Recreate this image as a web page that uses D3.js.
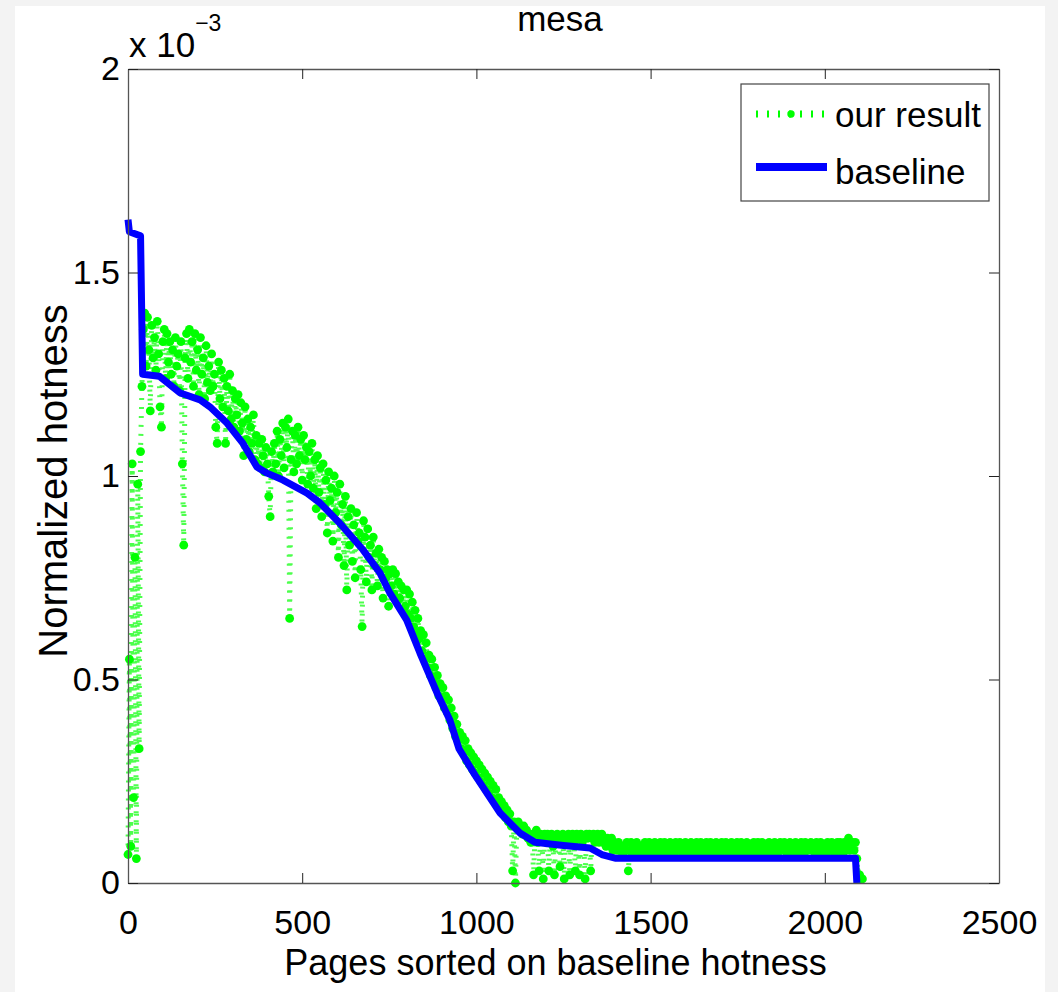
<!DOCTYPE html>
<html>
<head>
<meta charset="utf-8">
<script src="https://cdn.jsdelivr.net/npm/d3@7"></script>
<style>
    html, body { margin: 0; padding: 0; background: #f3f3f3; }
    svg { display: block; }
    text { font-family: "Liberation Sans", Arial, Helvetica, sans-serif; fill: #000; }
</style>
</head>
<body>
<div id="chart"></div>
<script>
    // values are in units of 1e-3 (the axis carries the "x 10^-3" factor)

    // axis ticks
    const X_TICKS = [0, 500, 1000, 1500, 2000, 2500];
    const Y_TICKS = [0, 0.5, 1, 1.5, 2];
    const Y_TICK_LABELS = ['0', '0.5', '1', '1.5', '2'];

    // baseline: pages sorted on baseline hotness
    const BASE_PAGES = [0, 4, 36, 42, 90, 150, 207, 235, 284, 330, 370, 399, 445, 514, 551,
        608, 675, 723, 752, 800, 838, 887, 924, 950, 996, 1068, 1125, 1168, 1250, 1326,
        1360, 1398, 1700, 2088, 2092];
    const BASE_VALUES = [1.63, 1.60, 1.59, 1.25, 1.245, 1.204, 1.187, 1.17, 1.13, 1.08, 1.022,
        1.007, 0.99, 0.958, 0.934, 0.884, 0.818, 0.762, 0.712, 0.646, 0.565, 0.467, 0.40,
        0.33, 0.265, 0.172, 0.123, 0.10, 0.092, 0.086, 0.07, 0.061, 0.061, 0.061, 0];

    // our result: sampled every OUR_STEP pages, starting at page 0
    const OUR_STEP = 4;
    const OUR_VALUES = [
        /* 0    */ 0.07, 0.55, 0.09, 1.03, 0.21, 0.80, 0.06, 0.98, 0.33, 1.06,
        /* 40   */ 1.22, 1.36, 1.40, 1.27, 1.39, 1.31, 1.16, 1.37, 1.29, 1.34,
        /* 80   */ 1.26, 1.38, 1.30, 1.17, 1.12, 1.33, 1.36, 1.24, 1.35, 1.28,
        /* 120  */ 1.33, 1.25, 1.31, 1.22, 1.34, 1.27, 1.30, 1.21, 1.33, 1.03,
        /* 160  */ 0.83, 1.29, 1.35, 1.24, 1.36, 1.28, 1.33, 1.22, 1.35, 1.26,
        /* 200  */ 1.31, 1.20, 1.34, 1.25, 1.29, 1.19, 1.32, 1.23, 1.27, 1.21,
        /* 240  */ 1.30, 1.22, 1.25, 1.12, 1.08, 1.28, 1.19, 1.26, 1.17, 1.24,
        /* 280  */ 1.08, 1.22, 1.16, 1.25, 1.14, 1.21, 1.12, 1.19, 1.15, 1.20,
        /* 320  */ 1.11, 1.18, 1.13, 1.05, 1.17, 1.09, 1.14, 1.06, 1.12, 1.08,
        /* 360  */ 1.15, 1.04, 1.10, 1.03, 1.08, 1.02, 1.09, 1.05, 1.01, 1.07,
        /* 400  */ 1.03, 0.95, 0.90, 1.06, 1.01, 1.08, 1.03, 1.11, 1.00, 1.09,
        /* 440  */ 1.05, 1.13, 1.02, 1.12, 1.07, 1.14, 0.65, 1.04, 1.11, 1.01,
        /* 480  */ 1.10, 1.03, 1.12, 1.05, 1.09, 0.99, 1.10, 1.04, 1.07, 0.98,
        /* 520  */ 1.06, 1.00, 1.08, 0.97, 1.04, 0.92, 1.05, 0.96, 1.02, 0.90,
        /* 560  */ 1.03, 0.93, 0.99, 0.86, 1.01, 0.94, 0.97, 0.84, 1.00, 0.91,
        /* 600  */ 0.96, 0.80, 0.98, 0.88, 0.93, 0.78, 0.95, 0.72, 0.90, 0.83,
        /* 640  */ 0.92, 0.79, 0.88, 0.75, 0.91, 0.84, 0.86, 0.77, 0.63, 0.89,
        /* 680  */ 0.85, 0.74, 0.87, 0.80, 0.83, 0.72, 0.85, 0.78, 0.81, 0.73,
        /* 720  */ 0.82, 0.77, 0.80, 0.70, 0.79, 0.75, 0.77, 0.68, 0.76, 0.73,
        /* 760  */ 0.77, 0.71, 0.76, 0.69, 0.74, 0.70, 0.73, 0.67, 0.72, 0.68,
        /* 800  */ 0.72, 0.66, 0.71, 0.65, 0.69, 0.63, 0.67, 0.61, 0.65, 0.60,
        /* 840  */ 0.62, 0.57, 0.61, 0.55, 0.59, 0.53, 0.56, 0.51, 0.55, 0.50,
        /* 880  */ 0.53, 0.48, 0.51, 0.46, 0.49, 0.45, 0.48, 0.43, 0.46, 0.42,
        /* 920  */ 0.45, 0.40, 0.43, 0.38, 0.41, 0.36, 0.39, 0.35, 0.37, 0.33,
        /* 960  */ 0.36, 0.32, 0.35, 0.30, 0.33, 0.29, 0.32, 0.28, 0.31, 0.27,
        /* 1000 */ 0.30, 0.26, 0.29, 0.25, 0.28, 0.24, 0.27, 0.23, 0.26, 0.22,
        /* 1040 */ 0.25, 0.21, 0.24, 0.20, 0.23, 0.19, 0.21, 0.18, 0.20, 0.17,
        /* 1080 */ 0.19, 0.16, 0.18, 0.15, 0.17, 0.14, 0.03, 0.15, 0.00, 0.14,
        /* 1120 */ 0.15, 0.13, 0.14, 0.12, 0.14, 0.12, 0.13, 0.11, 0.12, 0.10,
        /* 1160 */ 0.12, 0.02, 0.11, 0.13, 0.10, 0.03, 0.12, 0.11, 0.01, 0.12,
        /* 1200 */ 0.10, 0.12, 0.03, 0.11, 0.12, 0.09, 0.02, 0.11, 0.12, 0.10,
        /* 1240 */ 0.04, 0.11, 0.12, 0.01, 0.11, 0.10, 0.12, 0.02, 0.11, 0.12,
        /* 1280 */ 0.10, 0.03, 0.12, 0.11, 0.02, 0.12, 0.10, 0.11, 0.01, 0.12,
        /* 1320 */ 0.11, 0.12, 0.03, 0.11, 0.12, 0.10, 0.11, 0.12, 0.10, 0.11,
        /* 1360 */ 0.12, 0.10, 0.11, 0.09, 0.11, 0.10, 0.09, 0.11, 0.08, 0.10,
        /* 1400 */ 0.09, 0.08, 0.10, 0.08, 0.09, 0.07, 0.09, 0.08, 0.10, 0.03,
        /* 1440 */ 0.08, 0.10, 0.07, 0.09, 0.08, 0.10, 0.08, 0.09, 0.07, 0.09,
        /* 1480 */ 0.08, 0.10, 0.07, 0.09, 0.10, 0.08, 0.09, 0.07, 0.10, 0.08,
        /* 1520 */ 0.09, 0.07, 0.10, 0.08, 0.09, 0.10, 0.07, 0.09, 0.08, 0.10,
        /* 1560 */ 0.08, 0.09, 0.07, 0.10, 0.08, 0.09, 0.10, 0.08, 0.07, 0.09,
        /* 1600 */ 0.10, 0.08, 0.09, 0.07, 0.10, 0.08, 0.09, 0.08, 0.10, 0.07,
        /* 1640 */ 0.09, 0.10, 0.08, 0.09, 0.07, 0.10, 0.08, 0.09, 0.10, 0.08,
        /* 1680 */ 0.07, 0.09, 0.10, 0.08, 0.09, 0.07, 0.10, 0.09, 0.08, 0.10,
        /* 1720 */ 0.08, 0.07, 0.09, 0.10, 0.08, 0.09, 0.07, 0.10, 0.08, 0.09,
        /* 1760 */ 0.10, 0.08, 0.07, 0.09, 0.10, 0.08, 0.09, 0.07, 0.09, 0.10,
        /* 1800 */ 0.08, 0.09, 0.10, 0.07, 0.08, 0.10, 0.09, 0.08, 0.07, 0.09,
        /* 1840 */ 0.10, 0.07, 0.09, 0.08, 0.10, 0.09, 0.07, 0.08, 0.10, 0.08,
        /* 1880 */ 0.09, 0.10, 0.08, 0.07, 0.09, 0.10, 0.08, 0.09, 0.07, 0.10,
        /* 1920 */ 0.08, 0.09, 0.07, 0.10, 0.08, 0.07, 0.10, 0.09, 0.08, 0.09,
        /* 1960 */ 0.10, 0.08, 0.09, 0.07, 0.10, 0.08, 0.09, 0.10, 0.07, 0.08,
        /* 2000 */ 0.09, 0.07, 0.10, 0.08, 0.09, 0.10, 0.08, 0.07, 0.09, 0.10,
        /* 2040 */ 0.08, 0.10, 0.09, 0.07, 0.10, 0.08, 0.09, 0.11, 0.08, 0.10,
        /* 2080 */ 0.10, 0.08, 0.10, 0.06, 0.01, 0.02, 0.01, 0.01
    ];

    const SERIES_NAMES = ['our result', 'baseline'];

    // layout
    const W = 1058, H = 992;
    const plot = { left: 128, right: 999, top: 69, bottom: 883 };
    const FONT = 35;
    const TICK_FONT = 34;

    const svg = d3.select('#chart').append('svg')
        .attr('width', W)
        .attr('height', H);

    // white figure area on a light grey page
    svg.append('rect')
        .attr('x', 15).attr('y', 6)
        .attr('width', 1030).attr('height', H - 6)
        .attr('fill', '#fff');

    const x = d3.scaleLinear().domain([0, 2500]).range([plot.left, plot.right]);
    const y = d3.scaleLinear().domain([0, 2]).range([plot.bottom, plot.top]);

    // --- data series ---
    const ourData = OUR_VALUES.map(function (v, i) { return { page: i * OUR_STEP, value: v }; });
    const baseData = BASE_PAGES.map(function (p, i) { return { page: p, value: BASE_VALUES[i] }; });

    const line = d3.line()
        .x(function (d) { return x(d.page); })
        .y(function (d) { return y(d.value); });

    const green = '#00ff00';
    const blue = '#0000ff';

    // our result: dotted line with point markers
    svg.append('path')
        .datum(ourData)
        .attr('d', line)
        .attr('fill', 'none')
        .attr('stroke', green)
        .attr('stroke-width', 5)
        .attr('stroke-opacity', 0.7)
        .attr('stroke-dasharray', '2,7');

    svg.append('g')
        .selectAll('circle')
        .data(ourData)
        .enter()
        .append('circle')
        .attr('cx', function (d) { return x(d.page); })
        .attr('cy', function (d) { return y(d.value); })
        .attr('r', 4.4)
        .attr('fill', green);

    // baseline: thick solid line
    svg.append('path')
        .datum(baseData)
        .attr('d', line)
        .attr('fill', 'none')
        .attr('stroke', blue)
        .attr('stroke-width', 7)
        .attr('stroke-linejoin', 'round');

    // --- axes (ticks inside, on all four sides) ---
    const axisColor = '#555';
    function styleAxis(g) {
        g.select('.domain').attr('stroke', axisColor).attr('stroke-width', 1.3);
        g.selectAll('.tick line').attr('stroke', '#222').attr('stroke-width', 1);
        g.selectAll('.tick text')
            .attr('fill', '#000')
            .style('font-size', TICK_FONT + 'px')
            .style('font-family', '"Liberation Sans", Arial, sans-serif');
    }

    svg.append('g')
        .attr('transform', 'translate(0,' + plot.bottom + ')')
        .call(d3.axisBottom(x).tickValues(X_TICKS).tickSize(-10).tickSizeOuter(0).tickPadding(27)
            .tickFormat(d3.format('d')))
        .call(styleAxis);

    svg.append('g')
        .attr('transform', 'translate(0,' + plot.top + ')')
        .call(d3.axisTop(x).tickValues(X_TICKS).tickSize(-10).tickSizeOuter(0).tickFormat(''))
        .call(styleAxis);

    svg.append('g')
        .attr('transform', 'translate(' + plot.left + ',0)')
        .call(d3.axisLeft(y).tickValues(Y_TICKS).tickSize(-10).tickSizeOuter(0).tickPadding(8)
            .tickFormat(function (d, i) { return Y_TICK_LABELS[i]; }))
        .call(styleAxis);

    svg.append('g')
        .attr('transform', 'translate(' + plot.right + ',0)')
        .call(d3.axisRight(y).tickValues(Y_TICKS).tickSize(-10).tickSizeOuter(0).tickFormat(''))
        .call(styleAxis);

    // --- texts ---
    svg.append('text')
        .attr('x', 560).attr('y', 31)
        .attr('text-anchor', 'middle')
        .style('font-size', FONT + 'px')
        .text('mesa');

    const expo = svg.append('text')
        .attr('x', 129).attr('y', 57)
        .style('font-size', FONT + 'px');
    expo.append('tspan').text('x 10');
    expo.append('tspan')
        .attr('dy', -26)
        .style('font-size', '23px')
        .text('\u22123');

    svg.append('text')
        .attr('x', (plot.left + plot.right) / 2 - 8).attr('y', 975)
        .attr('text-anchor', 'middle')
        .style('font-size', '36px')
        .text('Pages sorted on baseline hotness');

    svg.append('text')
        .attr('transform', 'translate(67,' + 481 + ') rotate(-90)')
        .attr('text-anchor', 'middle')
        .style('font-size', '40px')
        .text('Normalized hotness');

    // --- legend ---
    const legend = svg.append('g');
    legend.append('rect')
        .attr('x', 741).attr('y', 84)
        .attr('width', 248).attr('height', 117)
        .attr('fill', '#fff')
        .attr('stroke', '#444')
        .attr('stroke-width', 1.2);

    legend.append('line')
        .attr('x1', 756).attr('x2', 827)
        .attr('y1', 114).attr('y2', 114)
        .attr('stroke', green)
        .attr('stroke-width', 7)
        .attr('stroke-dasharray', '2,9');
    legend.append('circle')
        .attr('cx', 791).attr('cy', 114).attr('r', 3.7)
        .attr('fill', green);
    legend.append('text')
        .attr('x', 835).attr('y', 127)
        .style('font-size', FONT + 'px')
        .text(SERIES_NAMES[0]);

    legend.append('line')
        .attr('x1', 756).attr('x2', 827)
        .attr('y1', 167).attr('y2', 167)
        .attr('stroke', blue)
        .attr('stroke-width', 8);
    legend.append('text')
        .attr('x', 835).attr('y', 184)
        .style('font-size', FONT + 'px')
        .text(SERIES_NAMES[1]);
</script>
</body>
</html>
